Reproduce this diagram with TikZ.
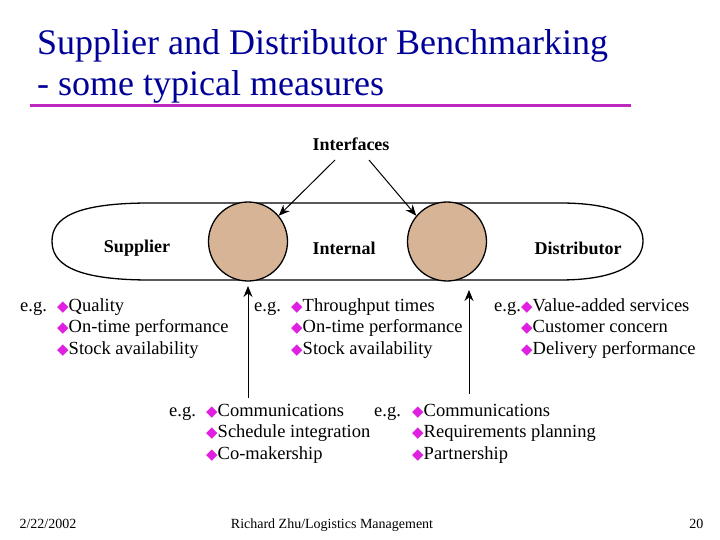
\documentclass[tikz,border=0pt]{standalone}
\usepackage{fontspec}
\setmainfont{Liberation Serif}
\newfontfamily\djv{DejaVu Sans}
\usetikzlibrary{arrows.meta}
\newcommand{\bul}{{\djv\fontsize{15}{15}\selectfont\color[HTML]{E020E0}◆}}
\begin{document}
\begin{tikzpicture}[x=1pt,y=-1pt,
  it/.style={anchor=base west,inner sep=0,font=\fontsize{18.5}{21.5}\selectfont},
  lab/.style={font=\bfseries\fontsize{18}{20}\selectfont},
  arr/.style={-{Stealth[length=11pt,width=9pt]},line width=1pt},
  foot/.style={font=\fontsize{14}{16}\selectfont}]
\useasboundingbox (0,0) rectangle (720,540);
\fill[white] (0,0) rectangle (720,540);
\node[anchor=base west,inner sep=0,text=blue!60!black,font=\fontsize{36}{42}\selectfont] (t1) at (37,55) {Supplier and Distributor Benchmarking};
\node[anchor=base west,inner sep=0,text=blue!60!black,font=\fontsize{36}{42}\selectfont] (t2) at (37,96) {- some typical measures};
\draw[line width=3pt,draw={rgb,255:red,190;green,40;blue,190}] (30,106) -- (631,106);
% oval
\draw[line width=1.3pt] (150,203) -- (560,203) .. controls (625,203) and (643,222) .. (643,241)
  .. controls (643,262) and (620,280) .. (560,280) -- (150,280)
  .. controls (70,280) and (52,262) .. (52,241) .. controls (52,218) and (75,203) .. (150,203);
\node[circle,draw,line width=1.3pt,fill={rgb,255:red,215;green,180;blue,150},minimum size=79pt,inner sep=0] (c1) at (248,241.5) {};
\node[circle,draw,line width=1.3pt,fill={rgb,255:red,215;green,180;blue,150},minimum size=79pt,inner sep=0] (c2) at (447,241.5) {};
\node[lab] (ifc) at (351,144) {Interfaces};
\coordinate (a1) at (335,160); \coordinate (a2) at (369,160);
\draw[arr] (a1) -- (c1.40);
\draw[arr] (a2) -- (c2.140);
\node[lab] (sup) at (137,248) {Supplier};
\node[lab] (int) at (344,248) {Internal};
\node[lab] (dis) at (578,248) {Distributor};
\node[it] (e1) at (20,311) {e.g.};
\node[it] (l1a) at (57,311) {\bul Quality};
\node[it] (l1b) at (57,332.5) {\bul On-time performance};
\node[it] (l1c) at (57,354) {\bul Stock availability};
\node[it] (e2) at (254,311) {e.g.};
\node[it] (l2a) at (291,311) {\bul Throughput times};
\node[it] (l2b) at (291,332.5) {\bul On-time performance};
\node[it] (l2c) at (291,354) {\bul Stock availability};
\node[it] (e3) at (494,311) {e.g.};
\node[it] (l3a) at (521,311) {\bul Value-added services};
\node[it] (l3b) at (521,332.5) {\bul Customer concern};
\node[it] (l3c) at (521,354) {\bul Delivery performance};
\node[it] (e4) at (169,416) {e.g.};
\node[it] (l4a) at (206,416) {\bul Communications};
\node[it] (l4b) at (206,437.5) {\bul Schedule integration};
\node[it] (l4c) at (206,459) {\bul Co-makership};
\node[it] (e5) at (374,416) {e.g.};
\node[it] (l5a) at (412,416) {\bul Communications};
\node[it] (l5b) at (412,437.5) {\bul Requirements planning};
\node[it] (l5c) at (412,459) {\bul Partnership};
\coordinate (v1) at (248,398); \coordinate (v1t) at (248,286);
\coordinate (v2) at (469,394); \coordinate (v2t) at (469,290);
\draw[arr] (v1) -- (v1t);
\draw[arr] (v2) -- (v2t);
\node[foot,anchor=base west] (d) at (16,528) {2/22/2002};
\node[foot,anchor=base] (au) at (332,528) {Richard Zhu/Logistics Management};
\node[foot,anchor=base east] (pg) at (707,528) {20};
\end{tikzpicture}
\end{document}
